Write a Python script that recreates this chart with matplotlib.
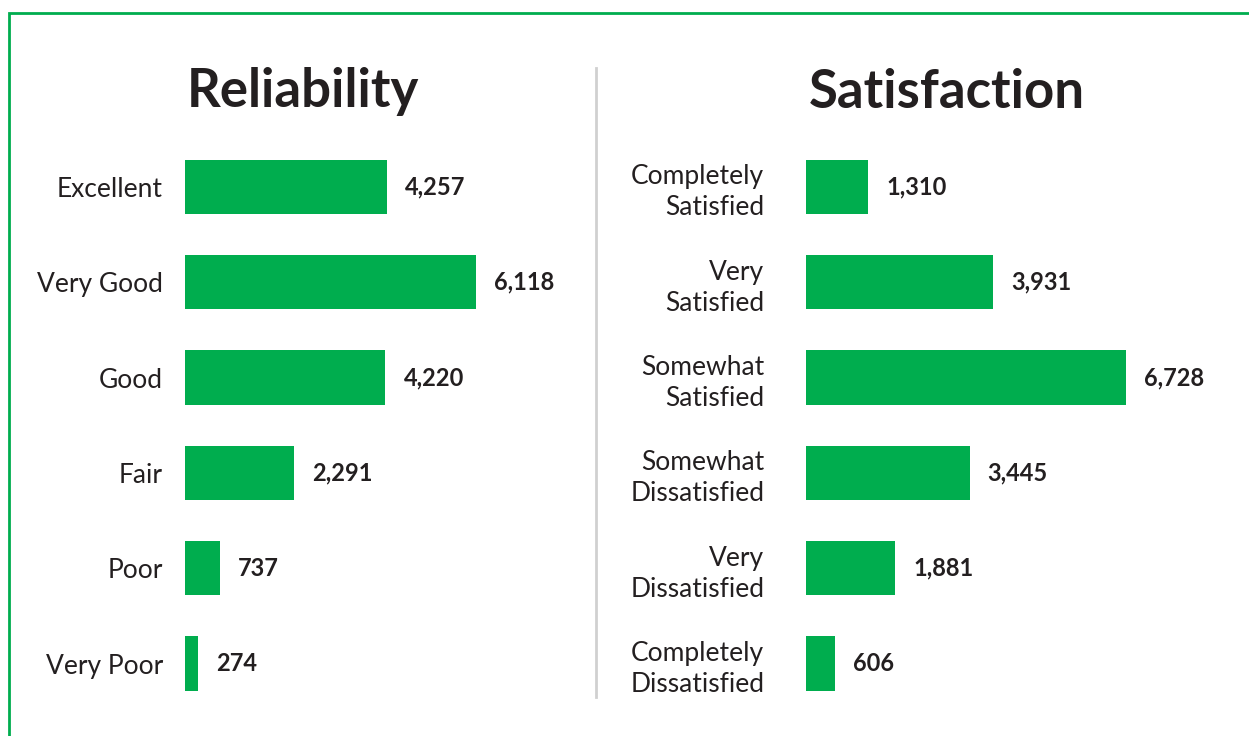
import matplotlib.pyplot as plt
from matplotlib.lines import Line2D
from matplotlib.patches import Rectangle

reliability_labels = ["Excellent", "Very Good", "Good", "Fair", "Poor", "Very Poor"]
reliability_values = [4257, 6118, 4220, 2291, 737, 274]

satisfaction_labels = ["Completely\nSatisfied", "Very\nSatisfied", "Somewhat\nSatisfied",
                       "Somewhat\nDissatisfied", "Very\nDissatisfied", "Completely\nDissatisfied"]
satisfaction_values = [1310, 3931, 6728, 3445, 1881, 606]

GREEN = "#00AD4E"
TEXT = "#231F20"

plt.rcParams['font.family'] = ['Lato', 'DejaVu Sans']

W, H = 1249, 736
fig = plt.figure(figsize=(W / 100, H / 100), dpi=100)

# frame: green border on top and left, running off the right/bottom edge
fig.add_artist(Rectangle((9 / W, -0.05), 1.2, (H - 13) / H + 0.05, transform=fig.transFigure,
                         fill=False, edgecolor=GREEN, linewidth=2))
# divider between the two panels
fig.add_artist(Line2D([596 / W, 596 / W], [(H - 697) / H, (H - 68) / H],
                      transform=fig.transFigure, color="#D0D0D0", linewidth=2))

XMAX = 7000
px_per_unit = 0.0475
ax_w = XMAX * px_per_unit / W
ax_bottom = (H - 711.2) / H
ax_h = 572 / H


def panel(left_px, title, title_x, labels, values, pad):
    ax = fig.add_axes([left_px / W, ax_bottom, ax_w, ax_h])
    y = range(len(values))
    ax.barh(y, values, height=0.57, color=GREEN)
    ax.set_xlim(0, XMAX)
    ax.set_ylim(len(values) - 0.5, -0.5)
    ax.set_yticks(list(y))
    ax.set_yticklabels(labels, fontsize=19, color=TEXT, linespacing=1.3)
    ax.tick_params(axis='y', length=0, pad=pad)
    ax.set_xticks([])
    for s in ax.spines.values():
        s.set_visible(False)
    for i, v in enumerate(values):
        ax.annotate(f"{v:,}", (v, i), xytext=(13, 0), textcoords="offset points",
                    va="center", ha="left", fontsize=17, fontweight="bold", color=TEXT)
    fig.text(title_x / W, (H - 92) / H, title, ha="center", va="center",
             fontsize=38, fontweight="bold", color=TEXT)
    return ax


panel(185, "Reliability", 303, reliability_labels, reliability_values, 16)
panel(806, "Satisfaction", 947, satisfaction_labels, satisfaction_values, 30)

fig.savefig("out.png", dpi=100, facecolor="white")
